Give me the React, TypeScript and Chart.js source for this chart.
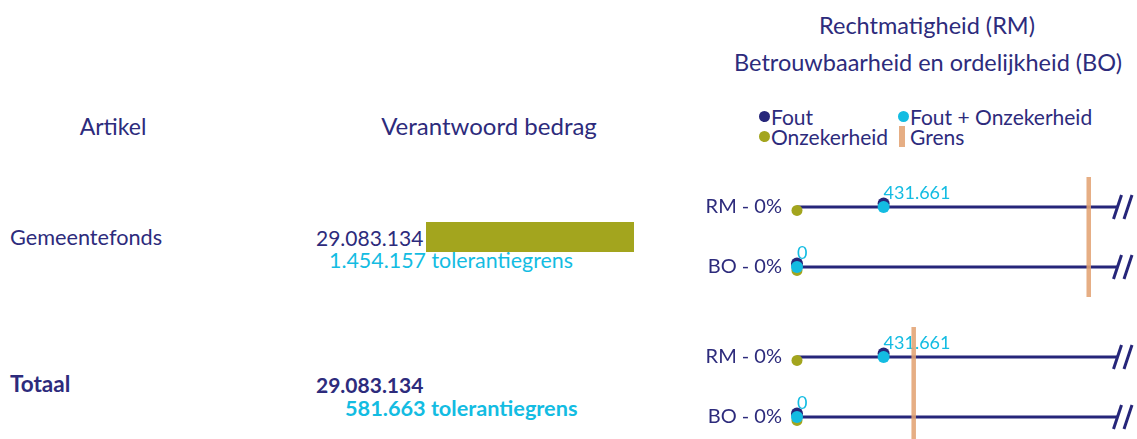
import React, { useEffect, useRef } from "react";
import { Chart, registerables } from "chart.js";

Chart.register(...registerables);

const FONT = "Lato, 'Noto Sans', sans-serif";
const NAVY_TEXT = "#2D2B7C";
const NAVY_LINE = "#26267A";
const CYAN = "#13BCE2";
const OLIVE = "#A3A51E";
const GRENS_COLOR = "rgba(226,163,115,0.88)";

// ---------------- data ----------------
const ARTICLES = ["Gemeentefonds", "Totaal"];
const AMOUNTS = [29083134, 29083134];
const TOLERANCES = [1454157, 581663];
const CHECK_LABELS = ["RM - 0%", "BO - 0%"];
const FOUT_RM = [431661, 431661];
const FOUT_BO = [0, 0];
const ONZEKERHEID_RM = [0, 0];
const ONZEKERHEID_BO = [0, 0];
const FOUT_ONZ_RM = [431661, 431661];
const FOUT_ONZ_BO = [0, 0];
const BAR_CATEGORIES = ["Gemeentefonds"];
const BAR_VALUES = [29083134];
const X_MAX = 1600000;
const LEGEND_NAMES = ["Fout", "Fout + Onzekerheid", "Onzekerheid", "Grens"];
const LEGEND_COLORS = [NAVY_LINE, CYAN, OLIVE, GRENS_COLOR];

const fmt = (n: number) => String(n).replace(/\B(?=(\d{3})+(?!\d))/g, ".");

// ---------------- helpers ----------------
function T(props: {
  x: number;
  cy: number;
  text: string;
  size?: number;
  color?: string;
  bold?: boolean;
  align?: "left" | "center";
}) {
  const { x, cy, text, size = 21, color = NAVY_TEXT, bold = false, align = "left" } = props;
  const style: any = {
    position: "absolute",
    left: x,
    top: cy - 0.529 * size,
    fontFamily: FONT,
    fontSize: size,
    lineHeight: `${size}px`,
    color,
    fontWeight: bold ? 700 : 400,
    whiteSpace: "nowrap",
    transform: align === "center" ? "translateX(-50%)" : undefined,
  };
  return <div style={style}>{text}</div>;
}

const SHIFT = 0.058;

function DotChart({ index, top }: { index: number; top: number }) {
  const ref = useRef<HTMLCanvasElement>(null);
  useEffect(() => {
    const fout = [FOUT_RM[index], FOUT_BO[index]];
    const onz = [ONZEKERHEID_RM[index], ONZEKERHEID_BO[index]];
    const total = [FOUT_ONZ_RM[index], FOUT_ONZ_BO[index]];
    const grens = TOLERANCES[index];
    const toPts = (vals: number[], dy: number) => vals.map((v, i) => ({ x: v, y: i + dy }));

    const decorations = {
      id: "decorations",
      afterDatasetDraw(chart: any, args: any) {
        if (args.index !== 1) return;
        const { ctx } = chart;
        const meta = chart.getDatasetMeta(1);
        ctx.save();
        ctx.fillStyle = CYAN;
        ctx.font = `18px ${FONT}`;
        ctx.textAlign = "left";
        ctx.textBaseline = "alphabetic";
        meta.data.forEach((el: any, i: number) => ctx.fillText(fmt(total[i]), el.x, el.y - 8.5));
        ctx.restore();
      },
      afterDatasetsDraw(chart: any) {
        const { ctx, scales } = chart;
        const xe = scales.x.getPixelForValue(X_MAX);
        ctx.save();
        ctx.strokeStyle = NAVY_LINE;
        ctx.lineWidth = 3;
        CHECK_LABELS.forEach((_, i) => {
          const py = scales.y.getPixelForValue(i);
          [-0.5, 10].forEach((off) => {
            ctx.beginPath();
            ctx.moveTo(xe + off - 4, py + 12);
            ctx.lineTo(xe + off + 4, py - 12);
            ctx.stroke();
          });
        });
        ctx.restore();
      },
    };

    const chart = new Chart(ref.current as HTMLCanvasElement, {
      type: "scatter",
      data: {
        datasets: [
          {
            label: "Grens",
            data: [
              { x: grens, y: -0.5 },
              { x: grens, y: 1.5 },
            ],
            showLine: true,
            borderColor: GRENS_COLOR,
            borderWidth: 4.5,
            pointRadius: 0,
            order: 0,
          } as any,
          {
            label: "Fout + Onzekerheid",
            data: toPts(total, 0),
            backgroundColor: CYAN,
            borderWidth: 0,
            pointRadius: 6,
            clip: false,
            order: 1,
          },
          {
            label: "Fout",
            data: toPts(fout, -SHIFT),
            backgroundColor: NAVY_LINE,
            borderWidth: 0,
            pointRadius: 6,
            clip: false,
            order: 2,
          },
          {
            label: "Onzekerheid",
            data: toPts(onz, SHIFT),
            backgroundColor: OLIVE,
            borderWidth: 0,
            pointRadius: 5.5,
            clip: false,
            order: 3,
          },
          ...CHECK_LABELS.map((lab, i) => ({
            label: lab,
            data: [
              { x: 0, y: i },
              { x: X_MAX, y: i },
            ],
            showLine: true,
            borderColor: NAVY_LINE,
            borderWidth: 3,
            pointRadius: 0,
            order: 4 + i,
          })),
        ] as any,
      },
      options: {
        responsive: false,
        animation: false,
        devicePixelRatio: 1,
        layout: { autoPadding: false, padding: { left: 0, right: 19, top: 0, bottom: 0 } },
        plugins: { legend: { display: false }, tooltip: { enabled: false } },
        scales: {
          x: { type: "linear", min: 0, max: X_MAX, display: false },
          y: {
            type: "linear",
            min: -0.5,
            max: 1.5,
            reverse: true,
            afterBuildTicks: (a: any) => {
              a.ticks = CHECK_LABELS.map((_, i) => ({ value: i }));
            },
            afterFit: (a: any) => {
              a.width = 97;
              a.paddingTop = 0;
              a.paddingBottom = 0;
            },
            ticks: {
              callback: (v: any) => CHECK_LABELS[v] ?? "",
              color: NAVY_TEXT,
              font: { family: FONT, size: 20 },
              padding: 15,
              autoSkip: false,
            },
            grid: { display: false, drawTicks: false },
            border: { display: false },
          },
        },
      } as any,
      plugins: [decorations],
    });
    return () => chart.destroy();
  }, [index]);
  return (
    <canvas
      ref={ref}
      width={437}
      height={120}
      style={{ position: "absolute", left: 700, top, width: 437, height: 120 }}
    />
  );
}

function AmountBar() {
  const ref = useRef<HTMLCanvasElement>(null);
  useEffect(() => {
    const chart = new Chart(ref.current as HTMLCanvasElement, {
      type: "bar",
      data: {
        labels: BAR_CATEGORIES,
        datasets: [
          {
            data: BAR_VALUES,
            backgroundColor: OLIVE,
            barPercentage: 1,
            categoryPercentage: 1,
          },
        ],
      },
      options: {
        indexAxis: "y",
        responsive: false,
        animation: false,
        devicePixelRatio: 1,
        layout: { autoPadding: false, padding: 0 },
        plugins: { legend: { display: false }, tooltip: { enabled: false } },
        scales: {
          x: { display: false, min: 0, max: Math.max(...AMOUNTS) },
          y: { display: false },
        },
      } as any,
    });
    return () => chart.destroy();
  }, []);
  return (
    <canvas
      ref={ref}
      width={208}
      height={30}
      style={{ position: "absolute", left: 426, top: 222, width: 208, height: 30 }}
    />
  );
}

function Legend() {
  const dot = (cx: number, cy: number, color: string) => (
    <div
      style={{
        position: "absolute",
        left: cx - 5.5,
        top: cy - 5.5,
        width: 11,
        height: 11,
        borderRadius: "50%",
        background: color,
      }}
    />
  );
  return (
    <>
      {dot(764, 116, LEGEND_COLORS[0])}
      <T x={771} cy={117} text={LEGEND_NAMES[0]} />
      {dot(903, 116, LEGEND_COLORS[1])}
      <T x={910} cy={117} text={LEGEND_NAMES[1]} />
      {dot(764, 136, LEGEND_COLORS[2])}
      <T x={771} cy={137} text={LEGEND_NAMES[2]} />
      <div
        style={{ position: "absolute", left: 899, top: 126, width: 6, height: 21, background: LEGEND_COLORS[3] }}
      />
      <T x={910} cy={137} text={LEGEND_NAMES[3]} />
    </>
  );
}

export default function App() {
  return (
    <div
      style={{
        position: "fixed",
        left: 0,
        top: 0,
        width: 1137,
        height: 439,
        overflow: "hidden",
        background: "#fff",
      }}
    >
      <T x={927} cy={26} text="Rechtmatigheid (RM)" size={23.5} align="center" />
      <T x={928} cy={63} text="Betrouwbaarheid en ordelijkheid (BO)" size={23.5} align="center" />
      <T x={113} cy={127} text="Artikel" size={23} align="center" />
      <T x={489} cy={127} text="Verantwoord bedrag" size={24} align="center" />
      <Legend />

      <T x={10} cy={238} text={ARTICLES[0]} size={21.7} />
      <T x={316} cy={238} text={fmt(AMOUNTS[0])} />
      <T x={329} cy={261} text={`${fmt(TOLERANCES[0])} tolerantiegrens`} color={CYAN} size={21.4} />
      <AmountBar />
      <DotChart index={0} top={177} />

      <T x={10} cy={385} text={ARTICLES[1]} bold size={22.5} />
      <T x={316} cy={385} text={fmt(AMOUNTS[1])} bold />
      <T x={345} cy={409} text={`${fmt(TOLERANCES[1])} tolerantiegrens`} color={CYAN} bold size={21.7} />
      <DotChart index={1} top={327} />
    </div>
  );
}
